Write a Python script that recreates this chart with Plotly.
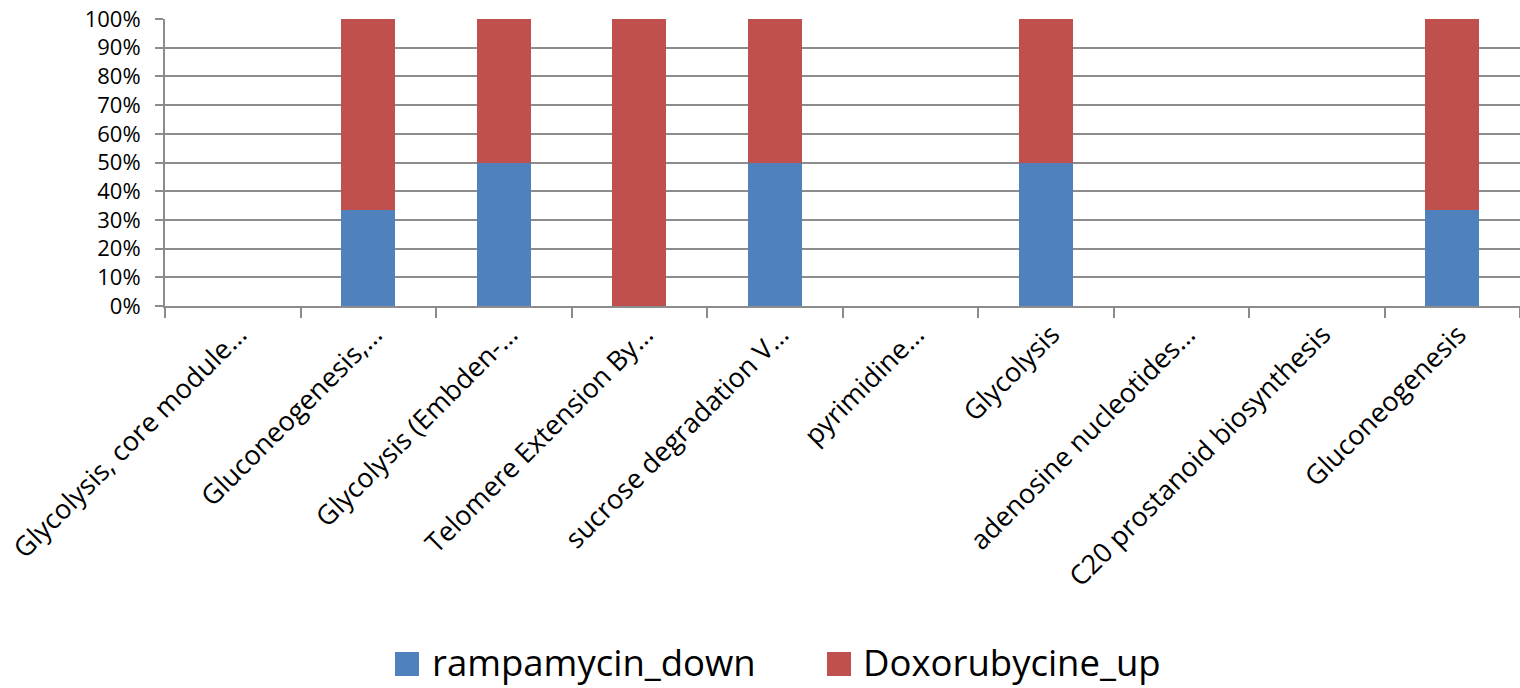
import plotly.graph_objects as go

# Pathway categories (x axis)
pathways = [
    "Glycolysis, core module…",
    "Gluconeogenesis,…",
    "Glycolysis (Embden-…",
    "Telomere Extension By…",
    "sucrose degradation V…",
    "pyrimidine…",
    "Glycolysis",
    "adenosine nucleotides…",
    "C20 prostanoid biosynthesis",
    "Gluconeogenesis",
]

# Gene counts per pathway for each condition
rampamycin_down = [0, 1, 1, 0, 1, 0, 1, 0, 0, 1]
doxorubycine_up = [0, 2, 1, 1, 1, 0, 1, 0, 0, 2]

series_names = ["rampamycin_down", "Doxorubycine_up"]
series_colors = ["#4F81BD", "#C0504D"]

y_ticks = [i / 10 for i in range(11)]

FONT = "Open Sans"
GRID = "#8C8C8C"

W, H = 1520, 688
L, R, T, B = 165, 0, 19, 382
plot_w = W - L - R
plot_h = H - T - B


def px_x(px):
    return (px - L) / plot_w


def px_y(py):
    return (H - B - py) / plot_h


fig = go.Figure()
for name, vals, color in zip(series_names, [rampamycin_down, doxorubycine_up], series_colors):
    fig.add_trace(go.Bar(
        x=pathways, y=vals, name=name,
        marker=dict(color=color, line=dict(width=0)),
        showlegend=False,
    ))

# Legend drawn as coloured squares with labels below the axis
legend_items = [(395, 431), (827, 862)]
for (sq_x, txt_x), name, color in zip(legend_items, series_names, series_colors):
    fig.add_shape(type="rect", xref="paper", yref="paper",
                  x0=px_x(sq_x), x1=px_x(sq_x + 24), y0=px_y(676), y1=px_y(652),
                  fillcolor=color, line=dict(width=0))
    fig.add_annotation(xref="paper", yref="paper", x=px_x(txt_x), y=px_y(662),
                       text=name, showarrow=False, xanchor="left", yanchor="middle",
                       borderpad=0,
                       font=dict(family=FONT, size=36.5, color="black"))

fig.update_layout(
    width=W, height=H,
    margin=dict(l=L, r=R, t=T, b=B, pad=0),
    barmode="stack", barnorm="fraction", bargap=0.6,
    plot_bgcolor="white", paper_bgcolor="white",
    font=dict(family=FONT, size=22, color="black"),
    showlegend=False,
)
fig.update_xaxes(
    type="category", range=[-0.5, 9.5],
    showline=True, linecolor=GRID, linewidth=2,
    ticks="outside", tickson="boundaries", ticklen=10, tickwidth=2, tickcolor=GRID,
    tickangle=-45, tickfont=dict(family=FONT, size=27, color="black"),
    ticklabelshift=6,
    showgrid=False, zeroline=False,
)
fig.update_yaxes(
    range=[0, 1], tickvals=y_ticks, tickformat=".0%",
    showline=True, linecolor=GRID, linewidth=2,
    ticks="outside", ticklen=8, tickwidth=2, tickcolor=GRID,
    ticklabelstandoff=10,
    showgrid=True, gridcolor=GRID, gridwidth=2, zeroline=False,
    tickfont=dict(family=FONT, size=22, color="black"),
)

fig.write_html("out.html")
